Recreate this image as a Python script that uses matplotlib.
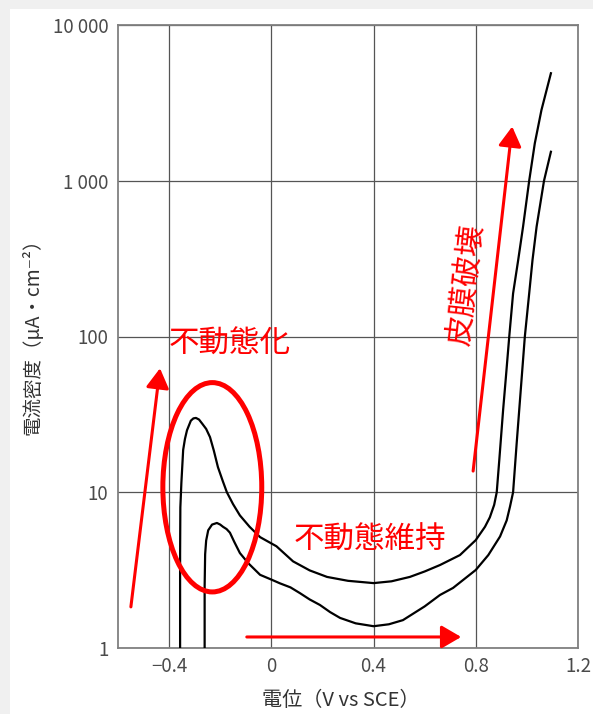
import matplotlib
matplotlib.use("Agg")
import matplotlib.pyplot as plt
from matplotlib.patches import Ellipse, Rectangle


plt.rcParams["font.family"] = ["Noto Sans CJK JP", "DejaVu Sans"]

# Polarization curves (potential in V vs SCE, current density in uA/cm2)
upper_potential = [-0.357, -0.357, -0.356, -0.352, -0.345, -0.338, -0.33, -0.315,
                   -0.305, -0.295, -0.283, -0.27, -0.255, -0.24, -0.225, -0.209,
                   -0.19, -0.174, -0.15, -0.123, -0.085, -0.044, 0.02, 0.085,
                   0.15, 0.218, 0.3, 0.4, 0.47, 0.542, 0.6, 0.66,
                   0.738, 0.8, 0.836, 0.855, 0.872, 0.882, 0.892, 0.907,
                   0.918, 0.931, 0.946, 0.966, 0.985, 1.009, 1.031, 1.057,
                   1.094]
upper_current = [1.0, 4.0, 8.0, 11.5, 18.7, 22.0, 25.0, 28.8,
                 29.8, 30.0, 29.3, 27.5, 25.5, 22.6, 18.5, 14.5,
                 11.8, 10.0, 8.4, 7.1, 6.0, 5.15, 4.5, 3.6,
                 3.15, 2.86, 2.7, 2.61, 2.68, 2.86, 3.1, 3.41,
                 3.95, 4.93, 6.0, 6.9, 8.3, 10.0, 16.1, 33.8,
                 55.2, 100, 189, 310, 507, 1000, 1740, 2845,
                 4900]

lower_potential = [-0.261, -0.261, -0.259, -0.255, -0.247, -0.232, -0.213, -0.2,
                   -0.189, -0.175, -0.162, -0.145, -0.123, -0.09, -0.044, 0.0,
                   0.034, 0.075, 0.112, 0.15, 0.19, 0.23, 0.269, 0.33,
                   0.4, 0.46, 0.515, 0.6, 0.66, 0.711, 0.8, 0.849,
                   0.895, 0.921, 0.934, 0.946, 0.96, 0.975, 0.992, 1.009,
                   1.022, 1.038, 1.067, 1.094]
lower_current = [1.0, 2.5, 4.0, 4.9, 5.7, 6.2, 6.35, 6.2,
                 6.0, 5.8, 5.5, 4.8, 4.07, 3.5, 2.95, 2.75,
                 2.6, 2.45, 2.25, 2.05, 1.89, 1.7, 1.56, 1.44,
                 1.38, 1.42, 1.51, 1.85, 2.19, 2.43, 3.17, 3.95,
                 5.2, 6.6, 8.1, 10.0, 20.6, 43.2, 100, 189,
                 310, 507, 1000, 1535]

x_ticks = [-0.4, 0, 0.4, 0.8, 1.2]
x_tick_labels = ["\u22120.4", "0", "0.4", "0.8", "1.2"]
y_ticks = [1, 10, 100, 1000, 10000]
y_tick_labels = ["1", "10", "100", "1 000", "10 000"]

RED = "#ff0000"
TICK_COLOR = "#4a4a4a"


fig = plt.figure(figsize=(5.93, 7.14), dpi=100)

# light grey strips along the top and left edges
fig.add_artist(Rectangle((0, 1 - 9 / 714), 1, 9 / 714, transform=fig.transFigure,
                         facecolor="#f0f0f0", edgecolor="none", zorder=-1))
fig.add_artist(Rectangle((0, 0), 10 / 593, 1, transform=fig.transFigure,
                         facecolor="#f0f0f0", edgecolor="none", zorder=-1))

ax = fig.add_axes([118 / 593, 66 / 714, 460 / 593, 623 / 714])

ax.plot(upper_potential, upper_current, color="black", lw=1.6, zorder=3)
ax.plot(lower_potential, lower_current, color="black", lw=1.6, zorder=3)

ax.set_yscale("log")
ax.set_xlim(-0.6, 1.2)
ax.set_ylim(1, 10000)

ax.set_xticks(x_ticks, x_tick_labels)
ax.set_yticks(y_ticks, y_tick_labels)
ax.minorticks_off()
ax.tick_params(length=0, labelsize=13.5, labelcolor=TICK_COLOR)
ax.tick_params(axis="x", pad=6)
ax.tick_params(axis="y", pad=7)

ax.grid(True, color="#555555", lw=0.9)
ax.set_axisbelow(True)
for spine in ax.spines.values():
    spine.set_color("#808080")
    spine.set_linewidth(1.3)

ax.set_xlabel("電位（V vs SCE）", fontsize=14.5, color="#333333", va="center")
ax.xaxis.set_label_coords(0.485, -0.0835)
ax.set_ylabel("電流密度（μA・cm⁻²）", fontsize=14, color="#333333",
              va="center", ha="center")
ax.yaxis.set_label_coords(-0.185, 0.507)

# red annotations
ax.add_patch(Ellipse((0.205, 0.258), 0.215, 0.336, transform=ax.transAxes,
                     fill=False, edgecolor=RED, lw=3.6, zorder=4))

arrow_style = dict(arrowstyle="-|>,head_length=0.6,head_width=0.35",
                   mutation_scale=20, color=RED, lw=2.2, shrinkA=0, shrinkB=0)
ax.annotate("", xy=(0.0913, 0.449), xytext=(0.028, 0.066),
            xycoords="axes fraction", arrowprops=arrow_style, zorder=4)
ax.annotate("", xy=(0.746, 0.0177), xytext=(0.280, 0.0177),
            xycoords="axes fraction", arrowprops=arrow_style, zorder=4)
ax.annotate("", xy=(0.857, 0.837), xytext=(0.772, 0.284),
            xycoords="axes fraction", arrowprops=arrow_style, zorder=4)

ax.text(0.243, 0.487, "不動態化", transform=ax.transAxes, color=RED,
        fontsize=22, ha="center", va="center", zorder=5)
ax.text(0.548, 0.173, "不動態維持", transform=ax.transAxes, color=RED,
        fontsize=22, ha="center", va="center", zorder=5)
ax.text(0.757, 0.583, "皮膜破壊", transform=ax.transAxes, color=RED,
        fontsize=22, ha="center", va="center", rotation=83.5,
        rotation_mode="anchor", zorder=5)

fig.savefig("out.png", dpi=100)
